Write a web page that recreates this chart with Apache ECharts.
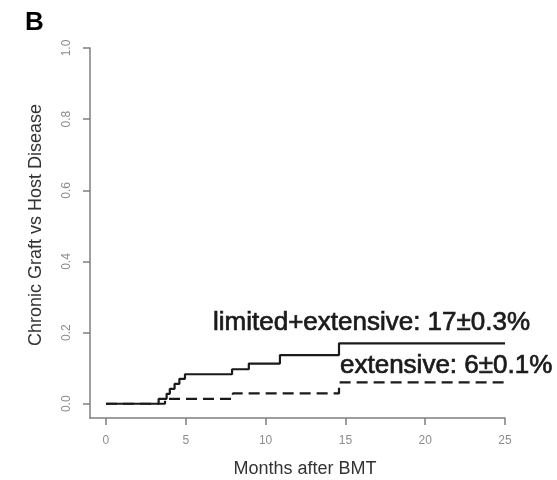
<!DOCTYPE html>
<html>
<head>
<meta charset="utf-8">
<script src="https://cdn.jsdelivr.net/npm/echarts@6/dist/echarts.min.js"></script>
<style>
  html, body { margin: 0; padding: 0; background: #ffffff; }
  #chart { width: 557px; height: 480px; }
</style>
</head>
<body>
<div id="chart"></div>
<script>
// Cumulative incidence of chronic GVHD, step curves (months after BMT)
const limitedExtMonths = [0, 3.3, 3.8, 4.0, 4.3, 4.6, 4.95, 7.9, 8.95, 10.9, 14.6, 25];
const limitedExtValues = [0, 0.014, 0.028, 0.042, 0.056, 0.07, 0.083, 0.097, 0.113, 0.137, 0.17, 0.17];

const extensiveMonths = [0, 3.7, 7.95, 14.6, 25];
const extensiveValues = [0, 0.014, 0.029, 0.06, 0.06];

const xTicks = [0, 5, 10, 15, 20, 25];
const yTicks = [0, 0.2, 0.4, 0.6, 0.8, 1.0];

const labelLimitedExt = 'limited+extensive: 17\u00b10.3%';
const labelExtensive = 'extensive: 6\u00b10.1%';

const FONT = '"Liberation Sans", Arial, Helvetica, sans-serif';
const AXIS_GREY = '#7f7f7f';
const LABEL_GREY = '#8c8c8c';

function pairs(xs, ys) {
  return xs.map((x, i) => [x, ys[i]]);
}

// medium-weight annotation text: regular face with a thin outline
function annotation(text, x, y) {
  return {
    type: 'text', x: x, y: y,
    style: {
      text: text, font: '26px ' + FONT, fill: '#1a1a1a',
      stroke: '#1a1a1a', lineWidth: 0.7,
      align: 'left', verticalAlign: 'middle'
    }
  };
}

const chart = echarts.init(document.getElementById('chart'), null, { renderer: 'canvas' });

chart.setOption({
  animation: false,
  backgroundColor: '#ffffff',
  grid: { left: 90, right: 52, top: 48, bottom: 62, containLabel: false },
  xAxis: {
    type: 'value',
    min: -1,
    max: 25,
    splitLine: { show: false },
    axisLine: { show: true, onZero: false, lineStyle: { color: AXIS_GREY, width: 1.5 } },
    axisTick: { show: true, length: 7, customValues: xTicks, lineStyle: { color: AXIS_GREY, width: 1.5 } },
    axisLabel: {
      customValues: xTicks,
      margin: 17,
      color: LABEL_GREY,
      fontFamily: FONT,
      fontSize: 12
    }
  },
  yAxis: {
    type: 'value',
    min: -0.04,
    max: 1.0,
    splitLine: { show: false },
    axisLine: { show: true, onZero: false, lineStyle: { color: AXIS_GREY, width: 1.5 } },
    axisTick: { show: true, length: 7, customValues: yTicks, lineStyle: { color: AXIS_GREY, width: 1.5 } },
    axisLabel: {
      customValues: yTicks,
      rotate: 90,
      margin: 17,
      color: LABEL_GREY,
      fontFamily: FONT,
      fontSize: 12,
      formatter: v => Number(v).toFixed(1)
    }
  },
  series: [
    {
      name: 'limited+extensive',
      type: 'line',
      step: 'end',
      showSymbol: false,
      lineStyle: { color: '#1a1a1a', width: 2.2 },
      data: pairs(limitedExtMonths, limitedExtValues),
      z: 3
    },
    {
      name: 'extensive',
      type: 'line',
      step: 'end',
      showSymbol: false,
      lineStyle: { color: '#1a1a1a', width: 2.2, type: [11, 6] },
      data: pairs(extensiveMonths, extensiveValues),
      z: 2
    }
  ],
  graphic: [
    {
      type: 'text', left: 25, top: 10,
      style: { text: 'B', font: 'bold 26px ' + FONT, fill: '#000000' }
    },
    {
      type: 'text', x: 36, y: 225, rotation: Math.PI / 2,
      style: {
        text: 'Chronic Graft vs Host Disease', font: '18px ' + FONT, fill: '#333333',
        align: 'center', verticalAlign: 'middle'
      }
    },
    {
      type: 'text', x: 305, y: 469,
      style: {
        text: 'Months after BMT', font: '18px ' + FONT, fill: '#333333',
        align: 'center', verticalAlign: 'middle'
      }
    },
    annotation(labelLimitedExt, 213, 323),
    annotation(labelExtensive, 340, 366)
  ]
});
</script>
</body>
</html>
